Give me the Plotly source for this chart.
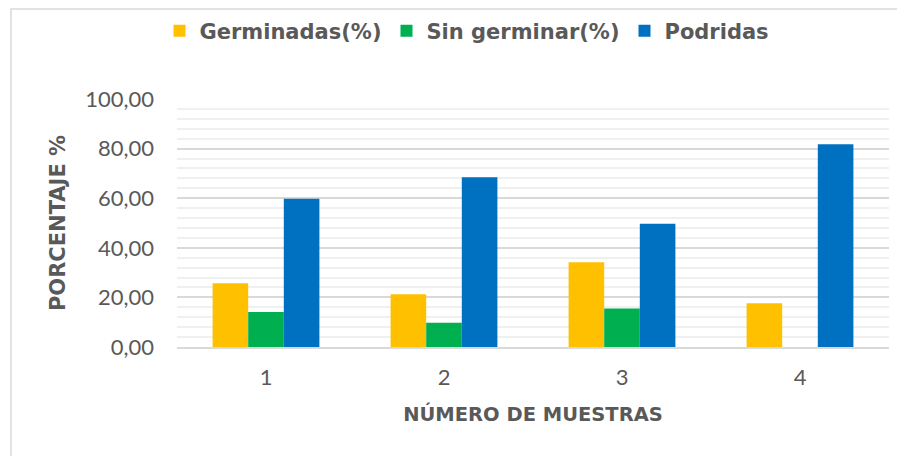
import plotly.graph_objects as go

categories = ["1", "2", "3", "4"]
germinadas = [25.7, 21.3, 34.2, 17.6]
sin_germinar = [14.1, 9.8, 15.5, 0.0]
podridas = [59.8, 68.4, 49.7, 81.8]
series_names = ["Germinadas(%)", "Sin germinar(%)", "Podridas"]
colors = ["#FFC000", "#00B050", "#0070C0"]
y_ticks = [0, 20, 40, 60, 80, 100]

FONT = "Lato"
BOLD = "DejaVu Sans"
GRAY = "#595959"

fig = go.Figure()
for name, vals, col in zip(series_names, [germinadas, sin_germinar, podridas], colors):
    fig.add_trace(go.Bar(x=categories, y=vals, name=name,
                         marker=dict(color=col, line=dict(width=0))))

# page has an 8px body margin: positions below are screen px minus 8
OFF = 8
W, H = 905, 456
L, R, T, B = 177 - OFF, W - (889 - OFF), 99 - OFF, H - (347 - OFF)
pw, ph = W - L - R, H - T - B

def px_to_paper_x(px):
    return (px - OFF - L) / pw

def px_to_paper_y(py):
    return (H - B - (py - OFF)) / ph

fig.update_layout(
    width=W, height=H,
    margin=dict(l=L, r=R, t=T, b=B, autoexpand=False),
    paper_bgcolor="white", plot_bgcolor="white",
    separators=",.",
    barmode="group", bargap=0.4, bargroupgap=0,
    font=dict(family=FONT, color=GRAY),
    legend=dict(orientation="h", x=px_to_paper_x(467), xanchor="center",
                y=px_to_paper_y(31), yanchor="middle",
                font=dict(size=21, color=GRAY, family=BOLD, weight="bold"),
                itemwidth=30, traceorder="normal", bgcolor="rgba(0,0,0,0)"),
    xaxis=dict(showgrid=False, showline=True, linecolor="#d9d9d9", linewidth=2,
               tickfont=dict(size=22, color=GRAY), ticks="", ticklabelstandoff=10,
               title=dict(text="NÚMERO DE MUESTRAS",
                          font=dict(size=19.5, color=GRAY, family=BOLD, weight="bold"),
                          standoff=18)),
    yaxis=dict(range=[0, 100], tickvals=y_ticks, tickformat=".2f",
               showgrid=True, gridcolor="#d9d9d9", gridwidth=1.5,
               minor=dict(dtick=4, tick0=0, showgrid=True, gridcolor="#f0f0f0", gridwidth=1.5),
               zeroline=False, showline=False,
               tickfont=dict(size=22, color=GRAY), ticks="", ticklabelstandoff=22,
               title=dict(text="PORCENTAJE %",
                          font=dict(size=21, color=GRAY, family=BOLD, weight="bold"),
                          standoff=13)),
    shapes=[dict(type="rect", xref="paper", yref="paper",
                 x0=px_to_paper_x(11), x1=px_to_paper_x(W + 30),
                 y0=px_to_paper_y(H + 30), y1=px_to_paper_y(9),
                 line=dict(color="#d9d9d9", width=1.5), fillcolor="rgba(0,0,0,0)", layer="below")],
)

fig.write_html("out.html")
